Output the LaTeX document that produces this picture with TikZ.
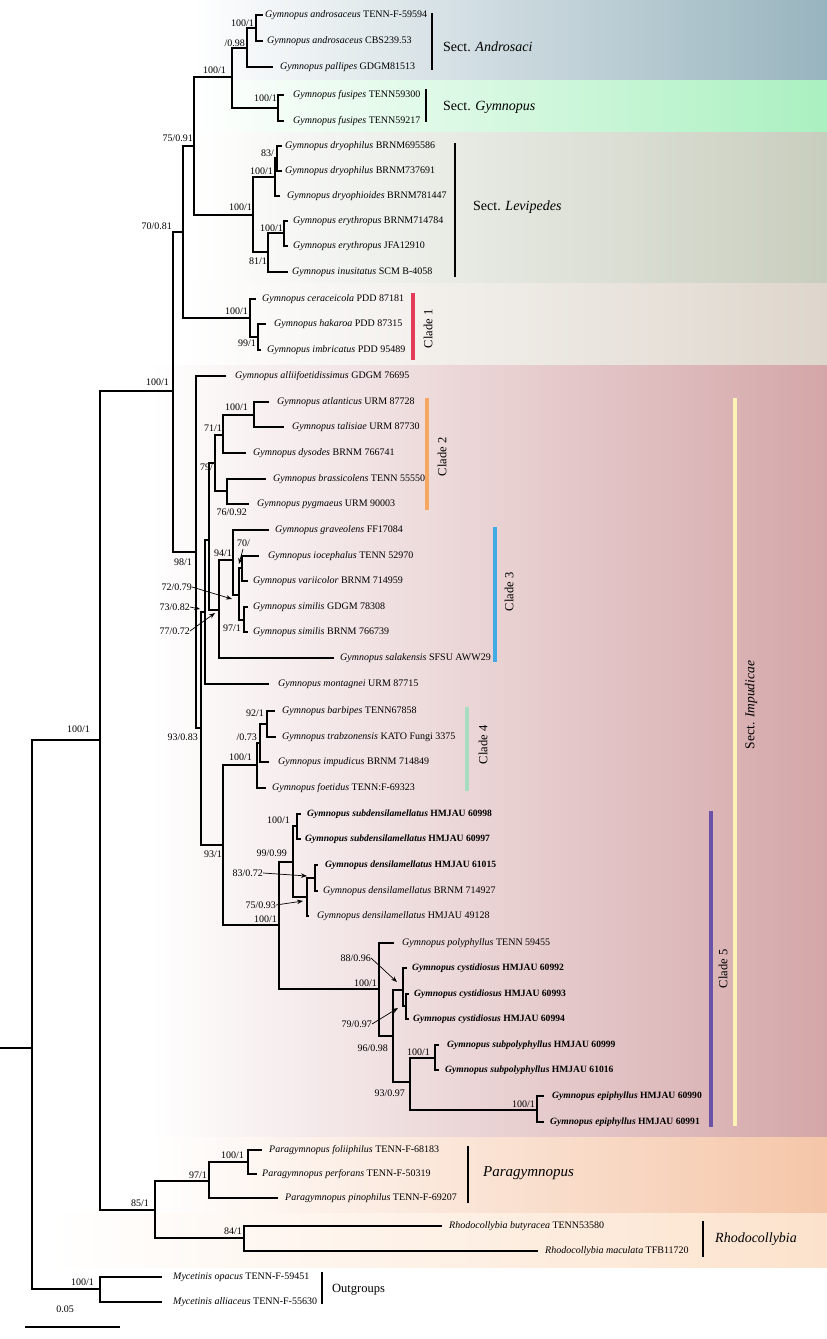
\documentclass[tikz,border=0pt]{standalone}
\usepackage{fontspec}
\setmainfont{Liberation Serif}
\usetikzlibrary{arrows.meta}
\newcommand\Tp[6]{\coordinate (#1) at (#2,#3); \node[tip] (#1l) at (#4,#3) {\textit{#5} #6};}
\newcommand\Tb[6]{\coordinate (#1) at (#2,#3); \node[tip,font=\fontsize{9.6}{12}\selectfont] (#1l) at (#4,#3) {\textbf{\textit{#5} #6}};}
\newcommand\Sp[4]{\node[sup] (#1) at (#2,#3) {#4};}
\begin{document}
\begin{tikzpicture}[x=1pt,y=-1pt,
  br/.style={line width=1.1pt,line cap=rect},
  tip/.style={anchor=west,inner sep=0pt,font=\fontsize{10}{12}\selectfont},
  sup/.style={anchor=east,inner sep=0pt,font=\fontsize{10}{12}\selectfont},
  sect/.style={anchor=west,inner sep=0pt,font=\fontsize{14}{16}\selectfont},
  cladelab/.style={rotate=90,inner sep=0pt,font=\fontsize{12.5}{14}\selectfont},
  blackbar/.style={line width=1.3pt},
  cbar/.style={line width=3.5pt},
  arr/.style={line width=0.7pt,-{Stealth[length=6pt,width=4.5pt]}}]
\useasboundingbox (0,0) rectangle (827,1339);
\definecolor{cAnd}{RGB}{152,180,190}
\definecolor{cGym}{RGB}{170,240,192}
\definecolor{cLev}{RGB}{200,206,190}
\definecolor{cCl1}{RGB}{222,214,204}
\definecolor{cImp}{RGB}{212,166,168}
\definecolor{cPar}{RGB}{245,198,168}
\definecolor{cRho}{RGB}{252,226,204}
\definecolor{bC1}{RGB}{228,60,86}
\definecolor{bC2}{RGB}{247,168,96}
\definecolor{bC3}{RGB}{64,171,230}
\definecolor{bC4}{RGB}{168,220,192}
\definecolor{bC5}{RGB}{106,82,168}
\definecolor{bImp}{RGB}{255,243,181}
% background bands
\shade[left color=white,right color=cAnd] (190,0) rectangle (827,80);
\shade[left color=white,right color=cGym] (190,80) rectangle (827,132);
\shade[left color=white,right color=cLev] (190,132) rectangle (827,283);
\shade[left color=white,right color=cCl1] (183,283) rectangle (827,365);
\shade[left color=white,right color=cImp] (150,365) rectangle (827,1137);
\shade[left color=white,right color=cPar] (150,1137) rectangle (827,1213);
\shade[left color=white,right color=cRho] (50,1213) rectangle (827,1267);
% tips
\Tp{t1}{262}{15}{265}{Gymnopus androsaceus}{TENN-F-59594}
\Tp{t2}{262}{41}{267}{Gymnopus androsaceus}{CBS239.53}
\Tp{t3}{272}{67}{280}{Gymnopus pallipes}{GDGM81513}
\Tp{t4}{283}{95}{293}{Gymnopus fusipes}{TENN59300}
\Tp{t5}{283}{121}{293}{Gymnopus fusipes}{TENN59217}
\Tp{t6}{281}{146}{285}{Gymnopus dryophilus}{BRNM695586}
\Tp{t7}{281}{171}{285}{Gymnopus dryophilus}{BRNM737691}
\Tp{t8}{279}{196}{287}{Gymnopus dryophioides}{BRNM781447}
\Tp{t9}{287}{221}{293}{Gymnopus erythropus}{BRNM714784}
\Tp{t10}{287}{246}{293}{Gymnopus erythropus}{JFA12910}
\Tp{t11}{287}{272}{292}{Gymnopus inusitatus}{SCM B-4058}
\Tp{t12}{255}{299}{262}{Gymnopus ceraceicola}{PDD 87181}
\Tp{t13}{265}{324}{274}{Gymnopus hakaroa}{PDD 87315}
\Tp{t14}{260}{350}{267}{Gymnopus imbricatus}{PDD 95489}
\Tp{t15}{225}{376}{235}{Gymnopus alliifoetidissimus}{GDGM 76695}
\Tp{t16}{268}{402}{277}{Gymnopus atlanticus}{URM 87728}
\Tp{t17}{283}{427}{292}{Gymnopus talisiae}{URM 87730}
\Tp{t18}{245}{453}{253}{Gymnopus dysodes}{BRNM 766741}
\Tp{t19}{265}{479}{273}{Gymnopus brassicolens}{TENN 55550}
\Tp{t20}{248}{504}{257}{Gymnopus pygmaeus}{URM 90003}
\Tp{t21}{268}{530}{275}{Gymnopus graveolens}{FF17084}
\Tp{t22}{258}{556}{268}{Gymnopus iocephalus}{TENN 52970}
\Tp{t23}{247}{581}{253}{Gymnopus variicolor}{BRNM 714959}
\Tp{t24}{247}{607}{253}{Gymnopus similis}{GDGM 78308}
\Tp{t25}{247}{632}{253}{Gymnopus similis}{BRNM 766739}
\Tp{t26}{333}{658}{340}{Gymnopus salakensis}{SFSU AWW29}
\Tp{t27}{268}{684}{278}{Gymnopus montagnei}{URM 87715}
\Tp{t28}{274}{711}{282}{Gymnopus barbipes}{TENN67858}
\Tp{t29}{275}{737}{282}{Gymnopus trabzonensis}{KATO Fungi 3375}
\Tp{t30}{268}{762}{278}{Gymnopus impudicus}{BRNM 714849}
\Tp{t31}{265}{788}{272}{Gymnopus foetidus}{TENN:F-69323}
\Tb{t32}{300}{814}{307}{Gymnopus subdensilamellatus}{HMJAU 60998}
\Tb{t33}{300}{839}{305}{Gymnopus subdensilamellatus}{HMJAU 60997}
\Tb{t34}{317}{865}{325}{Gymnopus densilamellatus}{HMJAU 61015}
\Tp{t35}{317}{891}{323}{Gymnopus densilamellatus}{BRNM 714927}
\Tp{t36}{308}{916}{317}{Gymnopus densilamellatus}{HMJAU 49128}
\Tp{t37}{393}{943}{402}{Gymnopus polyphyllus}{TENN 59455}
\Tb{t38}{406}{968}{412}{Gymnopus cystidiosus}{HMJAU 60992}
\Tb{t39}{408}{994}{414}{Gymnopus cystidiosus}{HMJAU 60993}
\Tb{t40}{408}{1019}{413}{Gymnopus cystidiosus}{HMJAU 60994}
\Tb{t41}{438}{1045}{447}{Gymnopus subpolyphyllus}{HMJAU 60999}
\Tb{t42}{438}{1070}{445}{Gymnopus subpolyphyllus}{HMJAU 61016}
\Tb{t43}{543}{1096}{552}{Gymnopus epiphyllus}{HMJAU 60990}
\Tb{t44}{543}{1122}{550}{Gymnopus epiphyllus}{HMJAU 60991}
\Tp{t45}{261}{1150}{269}{Paragymnopus foliiphilus}{TENN-F-68183}
\Tp{t46}{256}{1174}{262}{Paragymnopus perforans}{TENN-F-50319}
\Tp{t47}{277}{1198}{285}{Paragymnopus pinophilus}{TENN-F-69207}
\Tp{t48}{441}{1226}{449}{Rhodocollybia butyracea}{TENN53580}
\Tp{t49}{537}{1251}{545}{Rhodocollybia maculata}{TFB11720}
\Tp{t50}{161}{1277}{173}{Mycetinis opacus}{TENN-F-59451}
\Tp{t51}{161}{1302}{173}{Mycetinis alliaceus}{TENN-F-55630}
% internal nodes
\coordinate (root) at (32,1048); \coordinate (rootstub) at (0,1048);
\coordinate (E) at (100,740);  \coordinate (M) at (100,1289);
\coordinate (D) at (173,391);  \coordinate (PR) at (155,1210);
\coordinate (C) at (183,232);  \coordinate (X) at (196,552);
\coordinate (B) at (194,146);  \coordinate (C1) at (250,318);
\coordinate (A3) at (232,77);  \coordinate (L) at (253,215);
\coordinate (A2) at (247,48);  \coordinate (A1) at (256,28);
\coordinate (Gy) at (278,108);
\coordinate (D2) at (275,177); \coordinate (D1) at (277,158);
\coordinate (E2) at (268,252); \coordinate (E1) at (284,233);
\coordinate (C1b) at (258,337);
\coordinate (Y) at (201,728);  \coordinate (W) at (205,612);
\coordinate (Z) at (223,845);  \coordinate (V) at (209,540);
\coordinate (U) at (215,463);  \coordinate (S) at (219,610);
\coordinate (T1) at (223,435); \coordinate (T2) at (227,491);
\coordinate (T0) at (254,415);
\coordinate (Q) at (233,560);  \coordinate (O) at (239,595);
\coordinate (N) at (242,568);  \coordinate (Sm) at (244,620);
\coordinate (K1) at (257,765); \coordinate (K2) at (260,743);
\coordinate (K3) at (267,724);
\coordinate (J) at (279,925);  \coordinate (I) at (293,862);
\coordinate (H) at (297,826);  \coordinate (G) at (307,897);
\coordinate (F) at (315,878);
\coordinate (Pm) at (379,989); \coordinate (Qm) at (393,1036);
\coordinate (Cy) at (403,990); \coordinate (Cy2) at (406,1006);
\coordinate (Rm) at (410,1082);
\coordinate (Sp) at (435,1058); \coordinate (Ep) at (537,1110);
\coordinate (P2) at (209,1181); \coordinate (P1) at (248,1162);
\coordinate (Rh) at (244,1238);
% branches
\draw[br] (rootstub) -- (root);
\foreach \p/\c in {root/E,root/M,E/D,E/PR,D/C,D/X,C/B,C/C1,B/A3,B/L,A3/A2,A3/Gy,
  A2/A1,A2/t3,A1/t1,A1/t2,Gy/t4,Gy/t5,L/D2,L/E2,D2/D1,D2/t8,D1/t6,D1/t7,
  E2/E1,E2/t11,E1/t9,E1/t10,C1/t12,C1/C1b,C1b/t13,C1b/t14,
  X/t15,X/Y,Y/W,Y/Z,W/V,W/t27,V/U,V/S,U/T1,U/T2,T1/T0,T1/t18,T0/t16,T0/t17,
  T2/t19,T2/t20,S/Q,S/t26,Q/t21,Q/O,O/N,O/Sm,N/t22,N/t23,Sm/t24,Sm/t25,
  Z/K1,Z/J,K1/K2,K1/t31,K2/K3,K2/t30,K3/t28,K3/t29,
  J/I,J/Pm,I/H,I/G,H/t32,H/t33,G/F,G/t36,F/t34,F/t35,
  Pm/t37,Pm/Qm,Qm/Cy,Qm/Rm,Cy/t38,Cy/Cy2,Cy2/t39,Cy2/t40,
  Rm/Sp,Rm/Ep,Sp/t41,Sp/t42,Ep/t43,Ep/t44,
  PR/P2,PR/Rh,P2/P1,P2/t47,P1/t45,P1/t46,Rh/t48,Rh/t49,M/t50,M/t51}
  {\draw[br] (\p) |- (\c);}
% support values
\Sp{s1}{254}{23}{100/1}
\Sp{s2}{245}{43}{/0.98}
\Sp{s3}{226}{70}{100/1}
\Sp{s4}{277}{98}{100/1}
\Sp{s5}{193}{138}{75/0.91}
\Sp{s6}{274}{153}{83/}
\Sp{s7}{273}{171}{100/1}
\Sp{s8}{252}{207}{100/1}
\Sp{s9}{283}{228}{100/1}
\Sp{s10}{267}{261}{81/1}
\Sp{s11}{172}{226}{70/0.81}
\Sp{s12}{248}{311}{100/1}
\Sp{s13}{256}{343}{99/1}
\Sp{s14}{169}{382}{100/1}
\Sp{s15}{248}{407}{100/1}
\Sp{s16}{222}{428}{71/1}
\Sp{s17}{213}{467}{79/}
\Sp{s18}{247}{512}{76/0.92}
\Sp{s19}{192}{562}{98/1}
\Sp{s20}{232}{553}{94/1}
\Sp{s21}{250}{543}{70/}
\Sp{s22}{192}{587}{72/0.79}
\Sp{s23}{190}{607}{73/0.82}
\Sp{s24}{190}{631}{77/0.72}
\Sp{s25}{241}{628}{97/1}
\Sp{s26}{198}{737}{93/0.83}
\Sp{s27}{264}{713}{92/1}
\Sp{s28}{257}{737}{/0.73}
\Sp{s29}{252}{757}{100/1}
\Sp{s30}{290}{820}{100/1}
\Sp{s31}{222}{854}{93/1}
\Sp{s32}{287}{853}{99/0.99}
\Sp{s33}{263}{873}{83/0.72}
\Sp{s34}{276}{905}{75/0.93}
\Sp{s35}{277}{919}{100/1}
\Sp{s36}{371}{958}{88/0.96}
\Sp{s37}{377}{983}{100/1}
\Sp{s38}{372}{1024}{79/0.97}
\Sp{s39}{388}{1048}{96/0.98}
\Sp{s40}{430}{1052}{100/1}
\Sp{s41}{405}{1093}{93/0.97}
\Sp{s42}{535}{1104}{100/1}
\Sp{s43}{244}{1155}{100/1}
\Sp{s44}{207}{1175}{97/1}
\Sp{s45}{149}{1203}{85/1}
\Sp{s46}{242}{1231}{84/1}
\Sp{s47}{94}{1282}{100/1}
\Sp{s48}{90}{729}{100/1}
% arrows
\coordinate (a21s) at (243,549); \coordinate (a21e) at (239,564);
\coordinate (a22e) at (232,599); \coordinate (a23e) at (200,609);
\coordinate (a24e) at (215,613); \coordinate (a33e) at (307,876);
\coordinate (a34e) at (303,901); \coordinate (a36e) at (397,982);
\coordinate (a38e) at (398,1008);
\draw[arr] (a21s) -- (a21e);
\draw[arr] (s22.east) -- (a22e);
\draw[arr] (s23.east) -- (a23e);
\draw[arr] (s24.east) -- (a24e);
\draw[arr] (s33.east) -- (a33e);
\draw[arr] (s34.east) -- (a34e);
\draw[arr] (s36.east) -- (a36e);
\draw[arr] (s38.east) -- (a38e);
% group bars
\draw[blackbar] (432,13) -- (432,70);
\draw[blackbar] (426,89) -- (426,122);
\draw[blackbar] (455,143) -- (455,277);
\draw[blackbar] (468,1146) -- (468,1203);
\draw[blackbar] (703,1221) -- (703,1257);
\draw[blackbar] (322,1272) -- (322,1304);
\draw[cbar,bC1] (413,293) -- (413,360);
\draw[cbar,bC2] (427,398) -- (427,510);
\draw[cbar,bC3] (495,527) -- (495,662);
\draw[cbar,bC4] (467,707) -- (467,791);
\draw[cbar,bC5] (711,811) -- (711,1127);
\draw[cbar,bImp] (735,398) -- (735,1126);
% group labels
\node[sect] (lAnd) at (443,47) {Sect. \textit{Androsaci}};
\node[sect] (lGym) at (443,107) {Sect. \textit{Gymnopus}};
\node[sect] (lLev) at (473,207) {Sect. \textit{Levipedes}};
\node[sect,font=\fontsize{15}{17}\selectfont] (lPar) at (483,1173) {\textit{Paragymnopus}};
\node[sect] (lRho) at (715,1239) {\textit{Rhodocollybia}};
\node[sect,font=\fontsize{12.5}{14}\selectfont] (lOut) at (332,1290) {Outgroups};
\node[cladelab] (lC1) at (428,329) {Clade 1};
\node[cladelab] (lC2) at (442,457) {Clade 2};
\node[cladelab] (lC3) at (509,592) {Clade 3};
\node[cladelab] (lC4) at (483,745) {Clade 4};
\node[cladelab] (lC5) at (723,969) {Clade 5};
\node[cladelab,font=\fontsize{13.5}{15}\selectfont] (lImp) at (751,705) {Sect. \textit{Impudicae}};
% scale bar
\coordinate (sb1) at (25,1327); \coordinate (sb2) at (120,1327);
\draw[line width=1.1pt] (sb1) -- (sb2);
\node[inner sep=0pt,font=\fontsize{10}{12}\selectfont] (sbl) at (65,1309) {0.05};
\end{tikzpicture}
\end{document}
